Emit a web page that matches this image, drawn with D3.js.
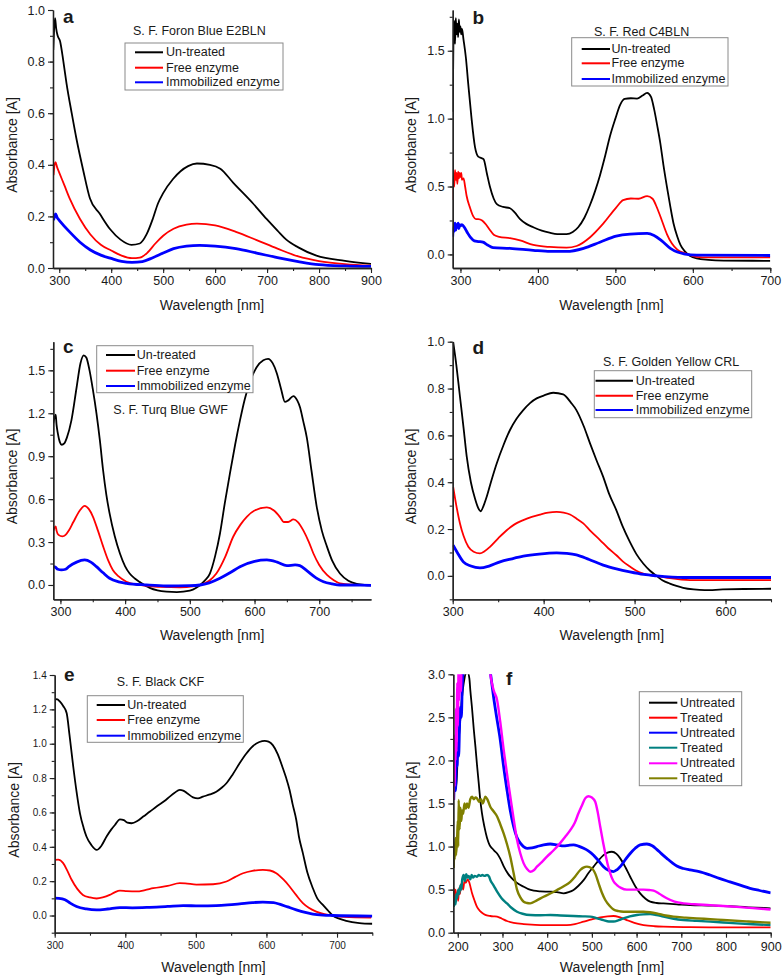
<!DOCTYPE html>
<html><head><meta charset="utf-8">
<script src="https://cdn.jsdelivr.net/npm/d3@7"></script>
<style>
body{margin:0;background:#fff}
svg{display:block}
text{font-family:"Liberation Sans",Arial,sans-serif;fill:#1a1a1a}
</style>
</head><body>
<svg id="chart" width="784" height="978"></svg>
<script>
// ---------------- DATA ----------------
// Panel a : S. F. Foron Blue E2BLN  [wavelength nm, absorbance]
const aUntreated = [[288.5,0.845],[290,0.92],[292,0.968],[294,0.93],[297,0.9],[301.5,0.88],[308,0.8],[314,0.716],[324,0.6],[333.6,0.496],[346,0.38],[359,0.27],[378,0.21],[398,0.15],[418,0.11],[439,0.09],[455,0.095],[468,0.13],[480,0.19],[490,0.25],[500,0.29],[519,0.345],[548,0.395],[565,0.405],[590,0.4],[610,0.385],[635,0.33],[673,0.25],[699,0.19],[720,0.145],[737,0.11],[760,0.08],[795,0.048],[850,0.028],[900,0.016]];
const aFree = [[289,0.36],[291,0.4],[293,0.41],[296,0.39],[300,0.37],[310,0.32],[320,0.27],[340,0.19],[360,0.13],[380,0.09],[400,0.068],[420,0.048],[440,0.038],[455,0.04],[470,0.06],[485,0.095],[500,0.125],[520,0.152],[545,0.168],[565,0.172],[600,0.165],[640,0.14],[680,0.108],[720,0.075],[760,0.045],[800,0.027],[850,0.015],[900,0.009]];
const aImmob = [[289,0.185],[291,0.2],[293,0.21],[296,0.195],[300,0.185],[320,0.14],[340,0.1],[360,0.07],[380,0.05],[400,0.037],[420,0.026],[440,0.022],[460,0.025],[480,0.04],[500,0.058],[520,0.075],[545,0.085],[570,0.088],[600,0.085],[640,0.075],[680,0.058],[720,0.04],[760,0.025],[800,0.013],[850,0.008],[900,0.006]];

// Panel b : S. F. Red C4BLN
const bUntreated = [[290,1.05],[291,1.6],[292,1.72],[293,1.55],[294,1.74],[295,1.62],[296,1.7],[297,1.6],[298,1.73],[299,1.64],[300,1.68],[301,1.62],[302,1.66],[304,1.58],[307,1.45],[310,1.26],[314,1.02],[318.8,0.79],[323,0.72],[327,0.71],[330,0.7],[334,0.6],[338,0.5],[343,0.41],[347,0.37],[355,0.35],[364,0.34],[370,0.31],[377,0.26],[385,0.225],[394,0.2],[405,0.175],[415,0.16],[425,0.15],[437,0.15],[445,0.165],[452,0.2],[460,0.27],[467,0.36],[474,0.47],[480,0.58],[487,0.73],[493,0.87],[500,1.0],[506,1.1],[512,1.145],[520,1.15],[528,1.148],[535,1.17],[541,1.19],[546,1.16],[550,1.07],[554,0.95],[558,0.82],[562,0.66],[566.5,0.5],[571,0.35],[575,0.23],[580,0.13],[584,0.07],[590,0.02],[596,-0.01],[605,-0.03],[620,-0.04],[640,-0.045],[700,-0.047]];
const bFree = [[290,0.4],[291,0.58],[292,0.5],[293,0.62],[294,0.55],[295,0.6],[296,0.52],[297,0.61],[298,0.56],[299,0.6],[300,0.57],[301,0.6],[302,0.55],[304,0.56],[306,0.5],[308,0.43],[312,0.35],[316.6,0.28],[320,0.26],[323,0.26],[328,0.25],[333,0.22],[338,0.18],[343,0.145],[350,0.13],[364,0.12],[377,0.103],[394,0.07],[415,0.055],[437,0.05],[450,0.062],[467,0.125],[484,0.225],[501,0.345],[510,0.4],[520,0.412],[530,0.41],[541,0.43],[548,0.41],[554,0.34],[560,0.25],[566.5,0.15],[573,0.08],[580,0.035],[592,0.005],[605,-0.018],[620,-0.022],[700,-0.022]];
const bImmob = [[290,0.13],[291,0.2],[292,0.17],[293,0.23],[294,0.18],[295,0.22],[296,0.2],[297,0.23],[298,0.19],[299,0.22],[300,0.21],[302,0.22],[305,0.2],[309,0.16],[313,0.125],[318,0.1],[323,0.095],[329,0.09],[335,0.07],[342,0.05],[364,0.045],[394,0.03],[416,0.022],[437,0.022],[459,0.045],[480,0.09],[501,0.135],[519,0.15],[541,0.155],[550,0.14],[560,0.1],[571,0.045],[580,0.018],[590,0.003],[605,-0.005],[700,-0.008]];

// Panel c : S. F. Turq Blue GWF
const cUntreated = [[289,1.13],[291,1.17],[292.7,1.19],[294,1.12],[296,1.06],[299,1.0],[302,0.98],[306,0.99],[310,1.03],[317,1.15],[325,1.38],[331,1.55],[336,1.605],[340,1.59],[345,1.5],[350,1.37],[355.7,1.2],[361,1.01],[366,0.8],[371,0.63],[376,0.5],[384,0.34],[392,0.22],[400,0.13],[407,0.08],[415,0.045],[423,0.02],[438,-0.02],[450,-0.038],[464,-0.047],[480,-0.05],[500,-0.04],[510,-0.02],[516,0],[523,0.03],[531,0.08],[539,0.2],[546.6,0.36],[554,0.57],[562,0.78],[570,0.98],[577.5,1.15],[585,1.3],[593,1.42],[603,1.52],[613.6,1.57],[621,1.58],[628,1.55],[634.4,1.48],[641,1.37],[647,1.28],[652,1.29],[660,1.32],[666,1.29],[670.4,1.24],[675,1.15],[680.8,1.03],[688,0.8],[696,0.55],[704,0.38],[711.8,0.27],[720,0.17],[732,0.08],[745,0.03],[758,0.008],[770,0],[780,-0.002]];
const cFree = [[289,0.38],[291,0.4],[292.7,0.41],[294,0.38],[297,0.35],[303,0.34],[308,0.35],[313,0.38],[320,0.44],[330,0.52],[337.5,0.553],[344,0.53],[350,0.48],[358,0.38],[366,0.27],[374,0.17],[381,0.105],[390,0.06],[402,0.023],[422,0.0],[440,-0.01],[454,-0.013],[485,-0.016],[505,-0.01],[516,0.0],[530,0.03],[541,0.08],[555,0.2],[567,0.337],[578,0.42],[588,0.476],[600,0.52],[619,0.542],[630,0.52],[640,0.47],[645,0.44],[652,0.44],[660,0.458],[667,0.44],[675.6,0.38],[684,0.3],[691,0.22],[700,0.14],[712,0.07],[722,0.035],[732,0.012],[750,0.003],[780,0]];
const cImmob = [[289,0.128],[292,0.125],[296,0.11],[301.5,0.105],[308,0.11],[313,0.128],[325,0.16],[337.5,0.175],[347,0.16],[355.7,0.128],[366,0.085],[376,0.047],[390,0.022],[402,0.012],[433,0.0],[464,-0.007],[500,-0.005],[516,0.0],[530,0.015],[546.6,0.047],[562,0.085],[577.5,0.128],[600,0.165],[619,0.175],[635,0.16],[650,0.135],[662.7,0.14],[670,0.135],[680.8,0.1],[695,0.05],[706.6,0.023],[720,0.008],[732,0.0],[780,-0.002]];

// Panel d : S. F. Golden Yellow CRL
const dUntreated = [[300.5,1.0],[304,0.9],[308,0.765],[312,0.63],[315.4,0.51],[320,0.4],[324.5,0.33],[328,0.29],[330.7,0.276],[334,0.3],[337.4,0.338],[342,0.4],[348.4,0.48],[356,0.56],[363,0.623],[370,0.67],[377.6,0.708],[385,0.738],[392.3,0.758],[400,0.77],[410.5,0.782],[421.5,0.775],[430,0.74],[436,0.708],[444,0.64],[451,0.566],[458,0.495],[465.5,0.423],[472,0.35],[480,0.28],[487,0.21],[494.8,0.145],[502,0.093],[509.5,0.053],[517,0.022],[524.2,0.0],[531,-0.02],[538.8,-0.033],[546,-0.043],[553.4,-0.051],[565,-0.058],[577,-0.061],[597,-0.058],[620,-0.056],[650,-0.055]];
const dFree = [[300.5,0.38],[304,0.3],[308,0.224],[312,0.17],[317.2,0.124],[323,0.103],[330,0.096],[335,0.105],[341,0.124],[350,0.16],[359.4,0.195],[368,0.22],[377.6,0.238],[387,0.252],[396,0.262],[405,0.27],[414.3,0.273],[422,0.27],[429,0.262],[436,0.245],[443.6,0.224],[452,0.19],[462,0.153],[471,0.118],[480,0.088],[487,0.062],[494.8,0.04],[502,0.022],[509.5,0.01],[517,0.003],[524.2,0.0],[538.8,-0.01],[560.8,-0.018],[600,-0.018],[650,-0.018]];
const dImmob = [[300.5,0.131],[305,0.1],[311.7,0.06],[320,0.042],[330,0.034],[340,0.042],[352,0.06],[365,0.073],[377.6,0.084],[395,0.093],[414.3,0.098],[425,0.096],[436,0.09],[450,0.07],[465.5,0.046],[480,0.03],[494.8,0.017],[510,0.006],[524.2,0.0],[553.4,-0.007],[650,-0.007]];

// Panel e : S. F. Black CKF
const eUntreated = [[300.4,1.254],[303,1.26],[307.5,1.245],[312,1.22],[317,1.177],[321,1.05],[326.3,0.866],[331,0.72],[335.8,0.595],[341,0.51],[345,0.46],[352,0.41],[359.4,0.382],[366,0.405],[373.5,0.46],[380,0.5],[385.3,0.527],[392.4,0.56],[398,0.555],[403,0.54],[409,0.537],[417,0.55],[425.4,0.576],[435,0.605],[444.3,0.634],[455,0.665],[463,0.692],[470,0.715],[477.2,0.731],[482,0.727],[486.7,0.715],[496,0.688],[503,0.682],[510,0.692],[520,0.705],[529,0.721],[537,0.745],[543.3,0.77],[552,0.82],[562,0.886],[571,0.94],[581,0.987],[590,1.01],[597.5,1.017],[603,1.012],[609,0.992],[616,0.94],[623.3,0.857],[628,0.8],[632.8,0.731],[637,0.65],[642.3,0.556],[646,0.46],[651.6,0.363],[658,0.25],[665.8,0.159],[672,0.1],[680,0.062],[687,0.03],[694,0.0],[703,-0.018],[713,-0.031],[731.8,-0.044],[750,-0.048]];
const eFree = [[300.4,0.324],[305,0.325],[312,0.305],[318,0.26],[324,0.208],[332,0.155],[340,0.12],[350,0.105],[359.4,0.099],[368,0.105],[378,0.12],[385,0.135],[392.4,0.145],[402,0.142],[416,0.14],[428,0.148],[439.6,0.159],[460,0.172],[477.2,0.188],[485,0.187],[500.8,0.18],[524.4,0.182],[543.3,0.198],[556,0.225],[566.9,0.246],[580,0.26],[595,0.266],[605,0.262],[614,0.246],[624,0.21],[632.8,0.169],[642,0.12],[651.6,0.072],[660,0.045],[670.5,0.023],[682,0.008],[694,0.0],[710,-0.008],[748.4,-0.012]];
const eImmob = [[300.4,0.101],[306,0.1],[314.6,0.092],[322,0.072],[331,0.052],[345,0.038],[359.4,0.033],[375,0.038],[392.4,0.046],[410,0.045],[434.8,0.048],[460,0.053],[482,0.058],[505,0.056],[529,0.058],[545,0.062],[562,0.068],[580,0.075],[595,0.078],[610,0.075],[618.6,0.066],[630,0.05],[642.3,0.033],[655,0.018],[665.8,0.008],[680,0.002],[694,0.0],[750,-0.003]];

// Panel f : three dyes, untreated / treated
const fUntreated1 = [[191,1.55],[194,1.8],[197,1.7],[200,2.1],[203,2.3],[206,2.5],[209,2.7],[212,2.85],[215,2.95],[217,3.0],[222,3.02],[226,2.95],[228,2.82],[232,2.6],[236,2.35],[239.5,2.16],[243,1.95],[247,1.73],[250,1.56],[254,1.39],[260,1.22],[265.5,1.1],[271,1.02],[276.7,0.98],[282,0.95],[288,0.92],[295,0.86],[302.8,0.77],[313,0.68],[325,0.61],[336,0.565],[347.4,0.534],[358,0.505],[370,0.488],[385,0.48],[407,0.476],[422,0.47],[436.8,0.457],[448,0.47],[459,0.496],[470,0.545],[481.5,0.61],[492,0.69],[503.8,0.767],[515,0.84],[526,0.9],[535,0.93],[544.7,0.94],[555,0.915],[563.4,0.863],[575,0.76],[585.7,0.65],[597,0.54],[608,0.457],[620,0.395],[630.4,0.36],[645,0.345],[660,0.34],[690,0.33],[719.7,0.32],[760,0.315],[794,0.31],[850,0.295],[900,0.283]];
const fTreated1 = [[191,0.52],[193,0.38],[195,0.5],[197,0.42],[198.5,0.46],[201,0.37],[203,0.52],[205,0.45],[207,0.56],[209.7,0.57],[212,0.5],[215,0.6],[218,0.58],[222.3,0.62],[226,0.58],[229,0.52],[232,0.457],[237,0.38],[243,0.3],[250,0.25],[258,0.217],[265,0.2],[273,0.194],[280,0.19],[288,0.186],[298,0.165],[310,0.136],[325,0.115],[347.4,0.1],[365,0.093],[384.7,0.089],[410,0.087],[444,0.089],[462,0.1],[481.5,0.128],[500,0.155],[518.7,0.178],[535,0.19],[548.5,0.194],[562,0.18],[578,0.147],[595,0.115],[615.5,0.089],[640,0.075],[660,0.07],[720,0.065],[794,0.062],[900,0.062]];
const fUntreated2 = [[191,1.54],[193,1.8],[195,1.65],[197,2.0],[198.5,1.93],[200,2.2],[202,2.05],[204,2.4],[206,2.62],[208,2.5],[210,2.85],[212,3.05],[215,3.3],[225,3.6],[240,3.8],[260,3.6],[268,3.2],[273,3.02],[280,2.74],[287,2.5],[295,2.24],[302,1.95],[310,1.66],[317,1.43],[325,1.23],[332,1.11],[340,1.04],[347,1.0],[355,0.98],[366,0.985],[377,1.0],[392,1.02],[407,1.03],[422,1.02],[436.8,1.007],[448,1.015],[459,1.02],[470,1.005],[481.5,0.98],[492,0.95],[503.8,0.9],[515,0.835],[526,0.767],[537,0.725],[548.5,0.71],[556,0.73],[563.4,0.767],[575,0.85],[585.7,0.92],[597,0.98],[608,1.02],[623,1.03],[635,1.01],[645,0.968],[656,0.915],[667.6,0.863],[680,0.81],[690,0.774],[705,0.745],[719.7,0.728],[740,0.71],[764.4,0.67],[785,0.63],[809,0.59],[830,0.555],[853.8,0.515],[875,0.49],[900,0.463]];
const fTreated2 = [[191,0.3],[193,0.38],[195,0.33],[197,0.45],[198.5,0.4],[201,0.5],[203,0.45],[206,0.55],[208,0.5],[210,0.62],[213.4,0.67],[216,0.6],[219,0.68],[222,0.64],[224.6,0.66],[228,0.62],[231,0.67],[234,0.64],[238,0.66],[243,0.65],[247,0.67],[250.6,0.66],[255,0.67],[260,0.66],[265.5,0.67],[270,0.65],[273,0.61],[280,0.55],[288,0.476],[298,0.4],[310,0.34],[320,0.29],[332.5,0.244],[345,0.22],[362,0.205],[385,0.203],[407,0.205],[430,0.2],[459,0.194],[480,0.19],[496.4,0.186],[510,0.17],[526,0.145],[538,0.13],[548.5,0.13],[560,0.145],[570.8,0.166],[585,0.19],[600.6,0.205],[615,0.213],[630.4,0.217],[645,0.205],[660,0.186],[680,0.165],[704.8,0.147],[735,0.138],[764.4,0.128],[794,0.118],[824,0.108],[860,0.098],[900,0.089]];
const fUntreated3 = [[191,1.54],[192,2.0],[193,1.7],[194,2.3],[195,2.0],[196,2.6],[197,2.1],[199,2.9],[200,2.4],[202,3.1],[203,2.7],[205,3.2],[207,2.8],[209,3.3],[212,3.5],[220,3.8],[235,3.9],[250,3.9],[265,3.5],[270,3.15],[273,3.0],[280,2.82],[288,2.7],[295,2.45],[302.8,2.12],[310,1.85],[317.6,1.58],[325,1.32],[332.5,1.08],[340,0.92],[347.4,0.805],[355,0.74],[362,0.708],[370,0.725],[377,0.767],[388,0.82],[399.5,0.883],[415,0.96],[429,1.04],[440,1.11],[451.7,1.19],[462,1.28],[470,1.386],[478,1.48],[485,1.56],[492,1.585],[500,1.57],[507.5,1.52],[513,1.4],[518.7,1.23],[525,1.05],[530,0.92],[536,0.78],[541,0.69],[548,0.6],[556,0.553],[565,0.52],[578,0.5],[595,0.5],[615.5,0.5],[628,0.495],[638,0.488],[650,0.455],[667.6,0.4],[685,0.36],[704.8,0.34],[730,0.33],[764.4,0.32],[794,0.31],[824,0.3],[860,0.285],[900,0.27]];
const fTreated3 = [[191,0.75],[192,1.0],[193,0.85],[195,1.1],[196,0.9],[198.5,1.08],[200,1.3],[201,1.0],[202,1.54],[204,1.2],[206,1.45],[208,1.3],[209.7,1.42],[212,1.38],[215,1.5],[218,1.44],[220.8,1.5],[224,1.45],[228,1.55],[232,1.58],[236,1.55],[240,1.57],[243,1.56],[248,1.52],[252,1.55],[256,1.5],[261.8,1.58],[266,1.55],[273,1.46],[280,1.41],[288,1.35],[295,1.26],[302.8,1.15],[310,1.03],[317.6,0.88],[325,0.69],[332.5,0.5],[340,0.41],[347.4,0.36],[355,0.345],[362,0.34],[375,0.37],[392,0.418],[407,0.455],[422,0.496],[437,0.54],[451.7,0.59],[463,0.655],[474,0.728],[481,0.755],[489,0.767],[500,0.747],[508,0.68],[515,0.573],[522,0.47],[530,0.38],[540,0.31],[548.5,0.27],[560,0.25],[570.8,0.244],[590,0.243],[615.5,0.244],[630,0.238],[645,0.225],[665,0.2],[682.5,0.186],[710,0.175],[734.6,0.166],[765,0.157],[794,0.147],[850,0.13],[900,0.116]];

// Labels / categories
const labels3 = ["Un-treated","Free enzyme","Immobilized enzyme"];
const labelsF = ["Untreated","Treated","Untreated","Treated","Untreated","Treated"];
const colors3 = ["#000000","#ff0000","#0000ff"];
const colorsF = ["#000000","#ff0000","#0000ff","#008080","#ff00ff","#808000"];
const titles = ["S. F. Foron Blue E2BLN","S. F. Red C4BLN","S. F. Turq Blue GWF","S. F. Golden Yellow CRL","S. F. Black CKF",""];
const letters = ["a","b","c","d","e","f"];

// Tick values
const xTicksA = [300,400,500,600,700,800,900];
const xTicksB = [300,400,500,600,700];
const xTicksC = [300,400,500,600,700];
const xTicksD = [300,400,500,600];
const xTicksE = [300,400,500,600,700];
const xTicksF = [200,300,400,500,600,700,800,900];
const yTicksA = [0,0.2,0.4,0.6,0.8,1.0];
const yTicksB = [0,0.5,1.0,1.5];
const yTicksC = [0,0.3,0.6,0.9,1.2,1.5];
const yTicksD = [0,0.2,0.4,0.6,0.8,1.0];
const yTicksE = [0,0.2,0.4,0.6,0.8,1.0,1.2,1.4];
const yTicksF = [0,0.5,1.0,1.5,2.0,2.5,3.0];

// ---------------- LAYOUT ----------------
const panels = [
  {series:[aUntreated,aFree,aImmob], labels:labels3, colors:colors3, widths:[1.8,1.8,2.8],
   left:53, right:371, top:10, bottom:268, xDom:[288,900], yDom:[0,1.0],
   xTicks:xTicksA, xMinorStep:50, yTicks:yTicksA, yMinorStep:0.1, font:12.5, yPad:3, xPad:3,
   letterXY:[63,23], titleXY:[133,31],
   legend:{x:125,y:43,w:158,h:47,rows:[52.3,67.7,82.3],l0:135,l1:163,tx:166},
   ylabX:12, xlabY:305},
  {series:[bUntreated,bFree,bImmob], labels:labels3, colors:colors3, widths:[1.8,1.8,2.8],
   left:452.7, right:770.3, top:10, bottom:268, xDom:[290,700], yDom:[-0.1,1.8],
   xTicks:xTicksB, xMinorStep:50, yTicks:yTicksB, yMinorStep:0.25, font:12.5, yPad:3, xPad:3,
   letterXY:[472.5,24], titleXY:[594,32],
   legend:{x:571.7,y:37.7,w:156.3,h:48.3,rows:[49,63.3,79],l0:581.7,l1:610,tx:611.5},
   ylabX:410.7, xlabY:305},
  {series:[cUntreated,cFree,cImmob], labels:labels3, colors:colors3, widths:[1.8,1.8,2.8],
   left:53.3, right:371, top:341.7, bottom:599.3, xDom:[289,780], yDom:[-0.1,1.7],
   xTicks:xTicksC, xMinorStep:50, yTicks:yTicksC, yMinorStep:0.15, font:12.5, yPad:3, xPad:3,
   letterXY:[63,353], titleXY:[113.3,410],
   legend:{x:96.7,y:345.7,w:156.3,h:47,rows:[355,370.7,386],l0:106,l1:135,tx:136.7},
   ylabX:12, xlabY:635},
  {series:[dUntreated,dFree,dImmob], labels:labels3, colors:colors3, widths:[1.8,1.8,2.8],
   left:452.7, right:771, top:341.7, bottom:599.3, xDom:[300,650], yDom:[-0.1,1.0],
   xTicks:xTicksD, xMinorStep:50, yTicks:yTicksD, yMinorStep:0.1, font:12.5, yPad:3, xPad:3,
   letterXY:[472.5,354], titleXY:[603,361.7],
   legend:{x:594.3,y:370.7,w:157.4,h:47,rows:[380.7,395.7,410],l0:595.5,l1:633,tx:635.7},
   ylabX:410.7, xlabY:635},
  {series:[eUntreated,eFree,eImmob], labels:labels3, colors:colors3, widths:[1.8,1.8,2.8],
   left:54.7, right:372.3, top:675, bottom:932.7, xDom:[300,750], yDom:[-0.1,1.4],
   xTicks:xTicksE, xMinorStep:50, yTicks:yTicksE, yMinorStep:0.1, font:10, yPad:3, xPad:4,
   letterXY:[64,681], titleXY:[116.7,682],
   legend:{x:87.3,y:695.7,w:156,h:46.6,rows:[705,720,735.7],l0:96.7,l1:125,tx:127.3},
   ylabX:14, xlabY:966.7},
  {series:[fUntreated1,fTreated1,fUntreated2,fTreated2,fUntreated3,fTreated3], labels:labelsF, colors:colorsF, widths:[1.8,1.8,2.8,2.4,2.4,2.4],
   left:453.3, right:770.7, top:674.3, bottom:932.7, xDom:[190,900], yDom:[0,3.0],
   xTicks:xTicksF, xMinorStep:50, yTicks:yTicksF, yMinorStep:0.25, font:12.5, yPad:3, xPad:4,
   letterXY:[506,685], titleXY:[0,0],
   legend:{x:639.3,y:691.7,w:102.4,h:94,rows:[702.7,717.7,732.7,747.7,763.3,778.3],l0:649,l1:677.3,tx:680},
   ylabX:411.7, xlabY:966.7}
];

const svg = d3.select("#chart");
const fmt = d3.format(".1f");

panels.forEach((p, pi) => {
  const x = d3.scaleLinear().domain(p.xDom).range([p.left, p.right]);
  const y = d3.scaleLinear().domain(p.yDom).range([p.bottom, p.top]);
  const g = svg.append("g");
  const cid = "clip" + pi;
  svg.append("defs").append("clipPath").attr("id", cid)
    .append("rect").attr("x", p.left).attr("y", p.top)
    .attr("width", p.right - p.left).attr("height", p.bottom - p.top);

  const line = d3.line().x(d => x(d[0])).y(d => y(d[1])).curve(d3.curveMonotoneX);
  p.series.forEach((s, i) => {
    g.append("path").attr("d", line(s)).attr("fill", "none")
      .attr("stroke", p.colors[i]).attr("stroke-width", p.widths[i])
      .attr("stroke-linejoin", "round").attr("clip-path", `url(#${cid})`);
  });

  // minor ticks
  const xMinor = d3.range(Math.ceil(p.xDom[0] / p.xMinorStep) * p.xMinorStep, p.xDom[1] + 0.001, p.xMinorStep);
  const yMinor = d3.range(Math.ceil(p.yDom[0] / p.yMinorStep - 1e-9), Math.floor(p.yDom[1] / p.yMinorStep + 1e-9) + 1)
    .map(k => +(k * p.yMinorStep).toFixed(4));

  const axX = g.append("g").attr("transform", `translate(0,${p.bottom})`);
  axX.call(d3.axisBottom(x).tickValues(xMinor).tickSize(3).tickSizeOuter(0).tickFormat(""));
  axX.append("g").call(d3.axisBottom(x).tickValues(p.xTicks).tickSize(5).tickSizeOuter(0).tickPadding(p.xPad).tickFormat(d3.format("d")));
  const axY = g.append("g").attr("transform", `translate(${p.left},0)`);
  axY.call(d3.axisLeft(y).tickValues(yMinor).tickSize(3).tickSizeOuter(0).tickFormat(""));
  axY.append("g").call(d3.axisLeft(y).tickValues(p.yTicks).tickSize(5).tickSizeOuter(0).tickPadding(p.yPad).tickFormat(fmt));
  g.selectAll(".domain").attr("stroke", "#222").attr("stroke-width", 1.3);
  g.selectAll(".tick line").attr("stroke", "#222").attr("stroke-width", 1.1);
  g.selectAll(".tick text").attr("font-family", '"Liberation Sans", Arial, sans-serif')
    .attr("font-size", p.font).attr("fill", "#1a1a1a");

  // axis titles
  g.append("text").attr("x", (p.left + p.right) / 2).attr("y", p.xlabY)
    .attr("text-anchor", "middle").attr("dominant-baseline", "central")
    .attr("font-size", 14).text("Wavelength [nm]");
  const cy = (p.top + p.bottom) / 2 + 6;
  g.append("text").attr("transform", `translate(${p.ylabX},${cy}) rotate(-90)`)
    .attr("text-anchor", "middle").attr("dominant-baseline", "central")
    .attr("font-size", 14).text("Absorbance [A]");

  // panel letter
  g.append("text").attr("x", p.letterXY[0]).attr("y", p.letterXY[1])
    .attr("font-size", 19).attr("font-weight", "bold").text(letters[pi]);
  // dye title
  if (titles[pi]) {
    g.append("text").attr("x", p.titleXY[0]).attr("y", p.titleXY[1])
      .attr("dominant-baseline", "central").attr("font-size", 12.5).text(titles[pi]);
  }
  // legend
  const L = p.legend;
  g.append("rect").attr("x", L.x).attr("y", L.y).attr("width", L.w).attr("height", L.h)
    .attr("fill", "#fff").attr("stroke", "#8a8a8a").attr("stroke-width", 1);
  p.labels.forEach((lab, i) => {
    g.append("line").attr("x1", L.l0).attr("x2", L.l1).attr("y1", L.rows[i]).attr("y2", L.rows[i])
      .attr("stroke", p.colors[i]).attr("stroke-width", 2);
    g.append("text").attr("x", L.tx).attr("y", L.rows[i]).attr("dominant-baseline", "central")
      .attr("font-size", 12.5).text(lab);
  });
});
</script>
</body></html>
